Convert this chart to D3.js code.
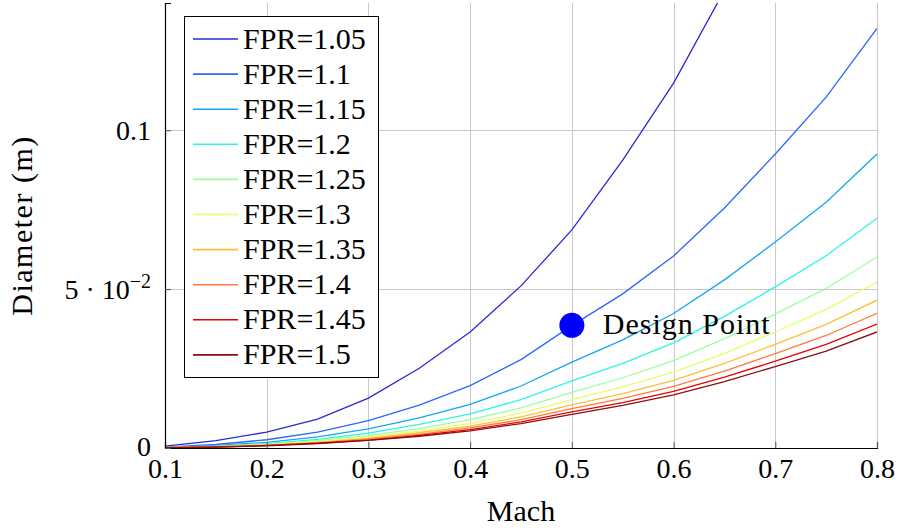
<!DOCTYPE html>
<html>
<head>
<meta charset="utf-8">
<script src="https://cdn.jsdelivr.net/npm/d3@7"></script>
<style>
  body { margin: 0; background: #fff; }
  svg { display: block; }
  text { font-family: "Liberation Serif", "Times New Roman", serif; fill: #000; }
</style>
</head>
<body>
<svg id="chart" width="898" height="528"></svg>
<script>
// ---- data ----
const mach = [0.1, 0.15, 0.2, 0.25, 0.3, 0.35, 0.4, 0.45, 0.5, 0.55, 0.6, 0.65, 0.7, 0.75, 0.8];
const fprLabels = ["FPR=1.05", "FPR=1.1", "FPR=1.15", "FPR=1.2", "FPR=1.25", "FPR=1.3", "FPR=1.35", "FPR=1.4", "FPR=1.45", "FPR=1.5"];
const d105 = [0.0006, 0.0023, 0.0050, 0.0091, 0.0157, 0.0251, 0.0365, 0.0510, 0.0686, 0.0906, 0.1148, 0.1440];
const d110 = [0.0003, 0.0011, 0.0026, 0.0050, 0.0086, 0.0135, 0.0196, 0.0278, 0.0385, 0.0485, 0.0604, 0.0755, 0.0925, 0.1104, 0.1320];
const d115 = [0.0002, 0.0008, 0.0018, 0.0035, 0.0060, 0.0095, 0.0137, 0.0195, 0.0270, 0.0340, 0.0423, 0.0529, 0.0648, 0.0773, 0.0925];
const d120 = [0.0002, 0.0006, 0.0014, 0.0027, 0.0047, 0.0074, 0.0107, 0.0152, 0.0211, 0.0266, 0.0331, 0.0414, 0.0507, 0.0605, 0.0723];
const d125 = [0.0001, 0.0005, 0.0012, 0.0023, 0.0039, 0.0061, 0.0089, 0.0126, 0.0175, 0.0221, 0.0275, 0.0344, 0.0421, 0.0502, 0.0601];
const d130 = [0.0001, 0.0004, 0.0010, 0.0020, 0.0034, 0.0053, 0.0077, 0.0110, 0.0152, 0.0192, 0.0239, 0.0298, 0.0365, 0.0436, 0.0522];
const d135 = [0.0001, 0.0004, 0.0009, 0.0018, 0.0030, 0.0048, 0.0069, 0.0098, 0.0136, 0.0171, 0.0213, 0.0266, 0.0326, 0.0389, 0.0465];
const d140 = [0.0001, 0.0004, 0.0008, 0.0016, 0.0028, 0.0043, 0.0063, 0.0089, 0.0124, 0.0156, 0.0194, 0.0242, 0.0297, 0.0354, 0.0424];
const d145 = [0.0001, 0.0003, 0.0008, 0.0015, 0.0025, 0.0040, 0.0058, 0.0082, 0.0114, 0.0143, 0.0178, 0.0223, 0.0273, 0.0326, 0.0390];
const d150 = [0.0001, 0.0003, 0.0007, 0.0014, 0.0024, 0.0037, 0.0054, 0.0077, 0.0106, 0.0134, 0.0167, 0.0209, 0.0256, 0.0305, 0.0365];
const seriesValues = [d105, d110, d115, d120, d125, d130, d135, d140, d145, d150];
const seriesColors = ["#2a2ad2", "#2b66ff", "#18a6f2", "#2cf5e6", "#9cff9c", "#e6ff66", "#ffbf33", "#ff7a3d", "#e60000", "#8b1010"];
const xTicks = [0.1, 0.2, 0.3, 0.4, 0.5, 0.6, 0.7, 0.8];
const yTicks = [0, 0.05, 0.1];
const designPoint = { mach: 0.5, diameter: 0.0386, label: "Design Point" };

// ---- layout ----
const svg = d3.select("#chart");
const L = 165, R = 877, T = 3, B = 448;
const x = d3.scaleLinear().domain([0.1, 0.8]).range([L, R]);
const y = d3.scaleLinear().domain([0, 0.14]).range([B, T]);

// grid
const grid = svg.append("g").attr("stroke", "#c8c8c8").attr("stroke-width", 1);
grid.selectAll(".gx").data(xTicks).join("line")
  .attr("x1", d => Math.round(x(d)) + 0.5).attr("x2", d => Math.round(x(d)) + 0.5)
  .attr("y1", T).attr("y2", B);
grid.selectAll(".gy").data(yTicks).join("line")
  .attr("y1", d => Math.round(y(d)) + 0.5).attr("y2", d => Math.round(y(d)) + 0.5)
  .attr("x1", L).attr("x2", R);

// clip
svg.append("clipPath").attr("id", "clip").append("rect")
  .attr("x", L).attr("y", T).attr("width", R - L).attr("height", B - T);

// lines
const line = d3.line().x((d, i) => x(mach[i])).y(d => y(d));
const lines = svg.append("g").attr("clip-path", "url(#clip)");
seriesValues.forEach((vals, k) => {
  lines.append("path").datum(vals)
    .attr("fill", "none").attr("stroke", seriesColors[k]).attr("stroke-width", 1.3)
    .attr("d", line);
});

// axes
const xAxis = svg.append("g").attr("transform", `translate(0,${B})`)
  .call(d3.axisBottom(x).tickValues(xTicks).tickSize(-6).tickPadding(13).tickFormat(d3.format(".1f")));
xAxis.select(".domain").attr("stroke", "#000").attr("stroke-width", 1.2);
xAxis.selectAll(".tick line").attr("stroke", "#555");
xAxis.selectAll(".tick text").attr("font-size", 28).attr("font-family", "Liberation Serif").attr("dy", "0.6em");

const yAxis = svg.append("g").attr("transform", `translate(${L},0)`)
  .call(d3.axisLeft(y).tickValues(yTicks).tickSize(-6).tickPadding(14).tickFormat(() => ""));
yAxis.select(".domain").attr("stroke", "#000").attr("stroke-width", 1.2);
yAxis.selectAll(".tick line").attr("stroke", "#555");
yAxis.selectAll(".tick text").each(function(d) {
  const t = d3.select(this).attr("font-size", 28).attr("font-family", "Liberation Serif");
  if (d === 0) { t.text("0").attr("dy", "0.25em"); }
  else if (d === 0.1) { t.text("0.1").attr("dy", "0.32em"); }
  else {
    t.attr("dy", "0.32em").text("");
    t.append("tspan").text("5 · 10");
    t.append("tspan").attr("font-size", 20).attr("dy", "-0.55em").text("−2");
  }
});

// axis titles
svg.append("text").attr("x", (L + R) / 2).attr("y", 521).attr("text-anchor", "middle")
  .attr("font-size", 30).text("Mach");
svg.append("text").attr("transform", `translate(32,${(T + B) / 2}) rotate(-90)`)
  .attr("text-anchor", "middle").attr("font-size", 30).attr("letter-spacing", 1.5).text("Diameter (m)");

// design point
svg.append("circle").attr("cx", x(designPoint.mach)).attr("cy", y(designPoint.diameter))
  .attr("r", 12.5).attr("fill", "#0000ff");
svg.append("text").attr("x", x(designPoint.mach) + 31).attr("y", y(designPoint.diameter) + 9)
  .attr("font-size", 30).attr("letter-spacing", 1).text(designPoint.label);

// legend
const lg = svg.append("g");
lg.append("rect").attr("x", 184.5).attr("y", 16.5).attr("width", 194).attr("height", 361)
  .attr("fill", "#fff").attr("stroke", "#000").attr("stroke-width", 1);
fprLabels.forEach((lab, k) => {
  const cy = 39 + k * 35.1;
  lg.append("line").attr("x1", 193).attr("x2", 238).attr("y1", cy).attr("y2", cy)
    .attr("stroke", seriesColors[k]).attr("stroke-width", 1.6);
  lg.append("text").attr("x", 243).attr("y", cy + 9.5).attr("font-size", 30).text(lab);
});
</script>
</body>
</html>
